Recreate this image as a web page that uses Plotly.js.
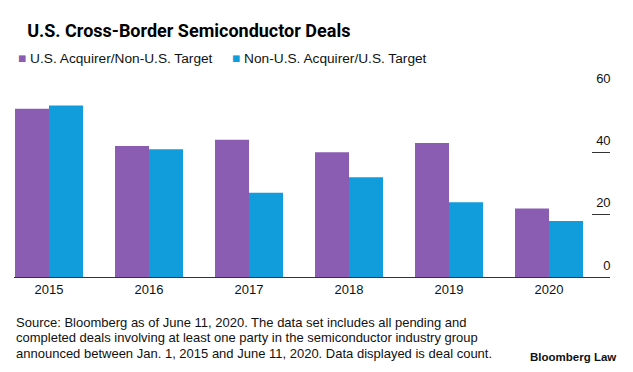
<!DOCTYPE html>
<html>
<head>
<meta charset="utf-8">
<script src="https://cdn.plot.ly/plotly-3.0.1.min.js"></script>
<style>html,body{margin:0;padding:0;background:#fff;}#chart{width:633px;height:372px;}</style>
</head>
<body>
<div id="chart"></div>
<script>
const years = ['2015', '2016', '2017', '2018', '2019', '2020'];
const seriesNames = ['U.S. Acquirer/Non-U.S. Target', 'Non-U.S. Acquirer/U.S. Target'];
const usAcquirer = [54, 42, 44, 40, 43, 22];
const nonUsAcquirer = [55, 41, 27, 32, 24, 18];
const yTicks = [0, 20, 40, 60];
const colors = ['#8a5cb2', '#119ddb'];
const titleText = 'U.S. Cross-Border Semiconductor Deals';
const sourceLines = [
  'Source: Bloomberg as of June 11, 2020. The data set includes all pending and',
  'completed deals involving at least one party in the semiconductor industry group',
  'announced between Jan. 1, 2015 and June 11, 2020. Data displayed is deal count.'
];
const brandText = 'Bloomberg Law';

const FONT = '"Liberation Sans", Arial, sans-serif';
const TFONT = 'Roboto, Arial, sans-serif';

const traces = [
  {type: 'bar', x: years, y: usAcquirer, name: seriesNames[0], marker: {color: colors[0]}, hoverinfo: 'x+y'},
  {type: 'bar', x: years, y: nonUsAcquirer, name: seriesNames[1], marker: {color: colors[1]}, hoverinfo: 'x+y'}
];

const legendX = [2 / 596, 216 / 596];
const legendAnn = seriesNames.map((n, i) => ({
  xref: 'paper', yref: 'paper', x: legendX[i], y: 1.1707, xanchor: 'left', yanchor: 'middle',
  showarrow: false, align: 'left',
  text: '<span style="color:' + colors[i] + '">■</span> ' + n,
  font: {family: FONT, size: 13.7, color: '#111'}
}));

const sourceY = [-0.2427, -0.3253, -0.408];
const sourceAnn = sourceLines.map((t, i) => ({
  xref: 'paper', yref: 'paper', x: 0, y: sourceY[i], xanchor: 'left', yanchor: 'middle', showarrow: false, align: 'left',
  text: t, font: {family: FONT, size: 13, color: '#111'}
}));

const layout = {
  width: 633, height: 372,
  margin: {l: 14, r: 23, t: 90, b: 94.5},
  paper_bgcolor: '#fff', plot_bgcolor: '#fff',
  showlegend: false,
  barmode: 'group', bargap: 0.32, bargroupgap: 0,
  title: {text: '<b>' + titleText + '</b>', x: 14/633, xanchor: 'left', xref: 'paper', y: 1 - 31/372, yanchor: 'middle', yref: 'container',
    font: {family: TFONT, size: 18, color: '#000'}},
  xaxis: {type: 'category', range: [-0.35, 5.61], showline: true, linecolor: '#333', linewidth: 1,
    ticks: '', showgrid: false, zeroline: false, tickfont: {family: FONT, size: 13, color: '#111'}, fixedrange: true},
  yaxis: {range: [0, 60], side: 'right', tickvals: yTicks, ticks: 'inside', ticklen: 18, tickcolor: '#333', tickwidth: 1,
    ticklabelposition: 'inside', ticklabelshift: -12, ticklabelstandoff: -19, ticklabeloverflow: 'allow',
    showgrid: false, zeroline: false, showline: false,
    tickfont: {family: FONT, size: 13, color: '#111'}, fixedrange: true},
  annotations: legendAnn.concat(sourceAnn, [
    {xref: 'paper', yref: 'paper', x: 604 / 596, y: -0.429, xanchor: 'right', yanchor: 'middle', showarrow: false,
      text: '<b>' + brandText + '</b>', font: {family: FONT, size: 11.5, color: '#111'}}
  ])
};

Plotly.newPlot('chart', traces, layout, {displayModeBar: false});
</script>
</body>
</html>
